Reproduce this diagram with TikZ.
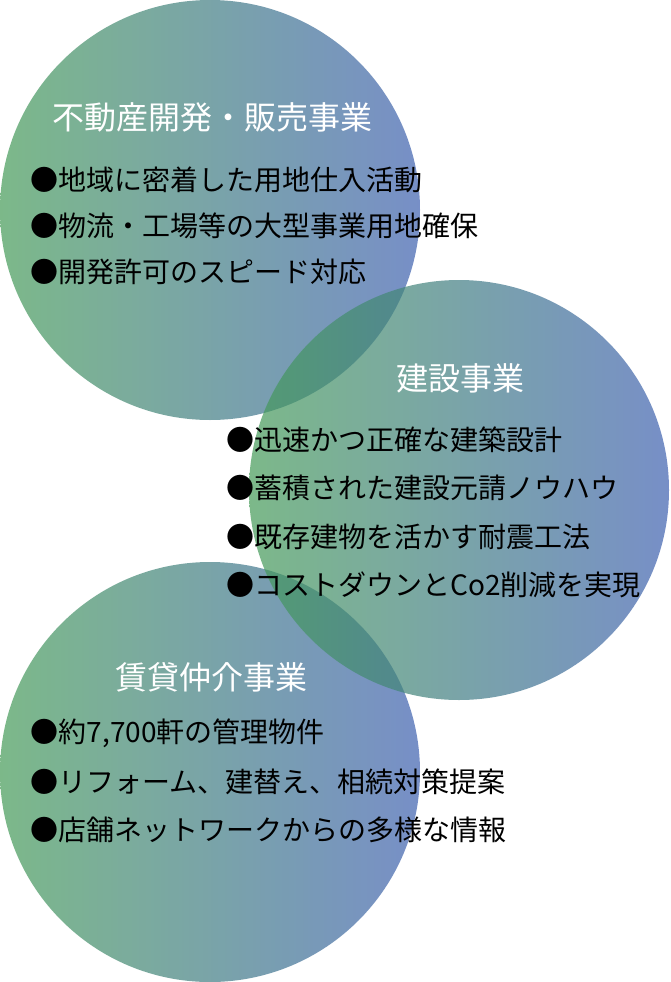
\documentclass[tikz,border=0pt]{standalone}
\usepackage{fontspec}
\setmainfont{Noto Sans CJK JP}
\definecolor{gleft}{RGB}{69,155,88}
\definecolor{gright}{RGB}{62,96,176}
\tikzset{
  bubble/.style={circle, inner sep=0pt, minimum size=420pt, draw=none,
    left color=gleft, right color=gright, fill opacity=0.7},
  title/.style={text=white, font=\fontsize{32pt}{34pt}\selectfont, inner sep=0pt, anchor=center},
  item/.style={text=black, font=\fontsize{28pt}{30pt}\selectfont, inner sep=0pt, anchor=west}
}
\begin{document}
\begin{tikzpicture}[x=1pt,y=-1pt]
\fill[white] (0,0) rectangle (670,982);
\useasboundingbox (0,0) rectangle (670,982);
% circles
\node[bubble] (c1) at (210,210) {};
\node[bubble] (c3) at (210,772) {};
\node[bubble] (c2) at (459,490) {};
% circle 1 texts
\node[title] (t1) at (212,117) {不動産開発・販売事業};
\node[item] (a1) at (30.5,180) {●地域に密着した用地仕入活動};
\node[item] (a2) at (30.5,226) {●物流・工場等の大型事業用地確保};
\node[item] (a3) at (30.5,272) {●開発許可のスピード対応};
% circle 2 texts
\node[title] (t2) at (460,378) {建設事業};
\node[item] (b1) at (226,440) {●迅速かつ正確な建築設計};
\node[item] (b2) at (226,488) {●蓄積された建設元請ノウハウ};
\node[item] (b3) at (226,537) {●既存建物を活かす耐震工法};
\node[item] (b4) at (226,585) {●コストダウンとCo2削減を実現};
% circle 3 texts
\node[title] (t3) at (211,677) {賃貸仲介事業};
\node[item] (d1) at (30.5,733) {●約7,700軒の管理物件};
\node[item] (d2) at (30.5,782) {●リフォーム、建替え、相続対策提案};
\node[item] (d3) at (30.5,830) {●店舗ネットワークからの多様な情報};
\end{tikzpicture}
\end{document}
